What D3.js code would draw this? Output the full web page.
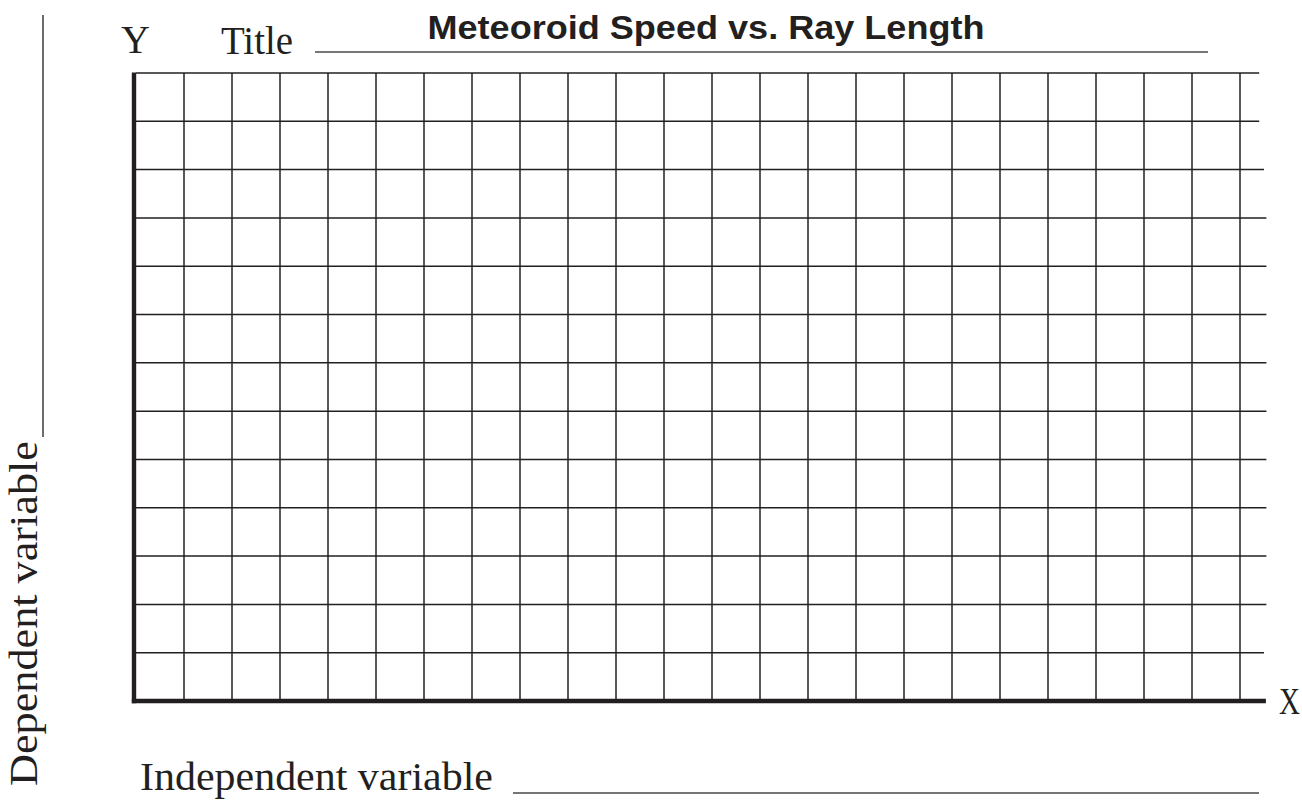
<!DOCTYPE html>
<html>
<head>
<meta charset="utf-8">
<script src="https://cdn.jsdelivr.net/npm/d3@7"></script>
<style>
  html, body { margin: 0; padding: 0; background: #fff; }
  svg { display: block; }
</style>
</head>
<body>
<svg id="chart" width="1302" height="800"></svg>
<script>
// ---- data (blank worksheet grid) ----
const chartTitle = "Meteoroid Speed vs. Ray Length";
const titlePrefix = "Title";
const yAxisLetter = "Y";
const xAxisLetter = "X";
const xAxisLabel = "Independent variable";
const yAxisLabel = "Dependent variable";
const columnTicks = d3.range(1, 24);   // 23 grid columns -> vertical lines 1..23
const rowTicks = d3.range(1, 14);      // 13 grid rows -> horizontal lines 1..13
// right end of each horizontal line (slightly ragged in the original, in grid units, bottom to top)
const rowEnds = [23.5, 23.55, 23.55, 23.55, 23.55, 23.55, 23.55, 23.55, 23.55, 23.55, 23.5, 23.4, 23.4];

const svg = d3.select("#chart");

const x = d3.scaleLinear().domain([0, 23]).range([136, 1240]);
const y = d3.scaleLinear().domain([0, 13]).range([701, 73]);

const ink = "#231f20";

// vertical grid lines
svg.append("g").selectAll("line").data(columnTicks).join("line")
  .attr("x1", d => x(d)).attr("x2", d => x(d))
  .attr("y1", y(13)).attr("y2", y(0))
  .attr("stroke", ink).attr("stroke-width", 1.5);

// horizontal grid lines
svg.append("g").selectAll("line").data(rowTicks).join("line")
  .attr("x1", x(0)).attr("x2", (d, i) => x(rowEnds[i]))
  .attr("y1", d => y(d)).attr("y2", d => y(d))
  .attr("stroke", ink).attr("stroke-width", 1.5);

// thick axes
const axisX = x(0) - 2;
svg.append("line")
  .attr("x1", axisX).attr("x2", axisX)
  .attr("y1", y(13) - 0.5).attr("y2", y(0) + 2.2)
  .attr("stroke", ink).attr("stroke-width", 4.4);
svg.append("line")
  .attr("x1", axisX - 2.2).attr("x2", x(23.54))
  .attr("y1", y(0)).attr("y2", y(0))
  .attr("stroke", ink).attr("stroke-width", 4.4);

const serif = "'Liberation Serif', 'Times New Roman', serif";

// Y letter and Title prefix
svg.append("text").text(yAxisLetter)
  .attr("x", 121).attr("y", 53)
  .attr("font-family", serif).attr("font-size", 40).attr("fill", ink);
svg.append("text").text(titlePrefix)
  .attr("x", 221).attr("y", 54)
  .attr("font-family", serif).attr("font-size", 40)
  .attr("textLength", 72).attr("lengthAdjust", "spacingAndGlyphs")
  .attr("fill", ink);

// title rule
svg.append("line")
  .attr("x1", 315).attr("x2", 1208).attr("y1", 52).attr("y2", 52)
  .attr("stroke", "#4a4748").attr("stroke-width", 1.6);

// chart title
svg.append("text").text(chartTitle)
  .attr("x", 706).attr("y", 39).attr("text-anchor", "middle")
  .attr("font-family", "'Liberation Sans', Arial, sans-serif")
  .attr("font-weight", "bold").attr("font-size", 34)
  .attr("textLength", 557).attr("lengthAdjust", "spacingAndGlyphs")
  .attr("fill", ink);

// X letter
svg.append("text").text(xAxisLetter)
  .attr("x", 1279).attr("y", 714)
  .attr("font-family", serif).attr("font-size", 38)
  .attr("textLength", 21).attr("lengthAdjust", "spacingAndGlyphs")
  .attr("fill", ink);

// independent variable label + rule
svg.append("text").text(xAxisLabel)
  .attr("x", 140).attr("y", 790)
  .attr("font-family", serif).attr("font-size", 40)
  .attr("textLength", 353).attr("lengthAdjust", "spacingAndGlyphs")
  .attr("fill", ink);
svg.append("line")
  .attr("x1", 513).attr("x2", 1259).attr("y1", 793).attr("y2", 793)
  .attr("stroke", "#4a4748").attr("stroke-width", 1.6);

// dependent variable label (rotated) + rule
svg.append("text").text(yAxisLabel)
  .attr("transform", "translate(37,786) rotate(-90)")
  .attr("font-family", serif).attr("font-size", 40)
  .attr("textLength", 345).attr("lengthAdjust", "spacingAndGlyphs")
  .attr("fill", ink);
svg.append("line")
  .attr("x1", 43).attr("x2", 43).attr("y1", 15).attr("y2", 437)
  .attr("stroke", "#4a4748").attr("stroke-width", 1.6);
</script>
</body>
</html>
